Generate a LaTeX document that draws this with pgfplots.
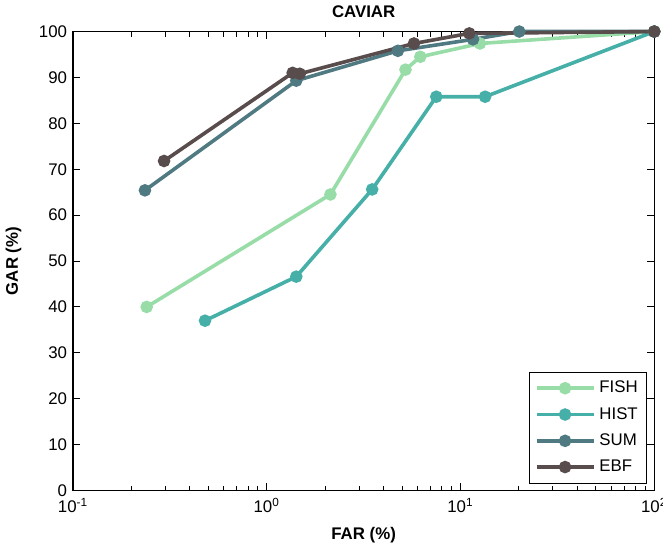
\documentclass[border={0pt 0pt -5pt 0pt}]{standalone}
\usepackage{pgfplots}
\pgfplotsset{compat=1.18}
\usepackage{fontspec}
\setmainfont{Liberation Sans}

\definecolor{cfish}{RGB}{152,221,168}
\definecolor{chist}{RGB}{70,176,168}
\definecolor{csum}{RGB}{80,122,130}
\definecolor{cebf}{RGB}{88,76,76}

\begin{document}
\fontsize{8.4}{10}\selectfont
\begin{tikzpicture}
\begin{semilogxaxis}[
  width=290pt, height=229pt,
  scale only axis,
  xmin=0.1, xmax=100,
  ymin=0, ymax=100,
  xtick={0.1,1,10,100},
  minor xtick={0.2,0.3,0.4,0.5,0.6,0.7,0.8,0.9,2,3,4,5,6,7,8,9,20,30,40,50,60,70,80,90},
  xticklabels={10\textsuperscript{-1},10\textsuperscript{0},10\textsuperscript{1},10\textsuperscript{2}},
  ytick={0,10,...,100},
  yticklabel style={/pgf/number format/assume math mode=true, font=\fontsize{8.4}{10}\selectfont},
  xticklabel style={font=\fontsize{8.4}{10}\selectfont, yshift=-1pt},
  tick align=inside,
  major tick length=3.5pt,
  minor tick length=2.5pt,
  tick style={black, line width=0.5pt},
  minor tick style={black, line width=0.5pt},
  axis line style={line width=0.6pt},
  title={\textbf{CAVIAR}},
  title style={yshift=-2pt},
  xlabel={\textbf{FAR (\%)}},
  xlabel style={yshift=-1.5pt},
  ylabel={\textbf{GAR (\%)}},
  ylabel style={yshift=3pt},
  clip=false,
  every axis plot/.append style={line width=1.8pt, mark=*, mark size=2.2pt},
  legend style={at={(0.988,0.015)}, anchor=south east, draw=black, line width=0.5pt,
    font=\fontsize{8.4}{10}\selectfont, row sep=2pt, inner sep=2.5pt},
  legend cell align=left,
  legend image code/.code={
    \draw[#1, mark repeat=2, mark phase=2] plot coordinates {(0cm,0cm) (0.5cm,0cm) (1cm,0cm)};
  },
]
\addplot[color=cfish, mark options={fill=cfish}] coordinates {
  (0.24,40) (2.13,64.5) (5.2,91.7) (6.2,94.5) (12.6,97.4) (100,100)
};
\addplot[color=chist, mark options={fill=chist}] coordinates {
  (0.48,37) (1.42,46.6) (3.5,65.6) (7.5,85.8) (13.4,85.8) (100,100)
};
\addplot[color=csum, mark options={fill=csum}] coordinates {
  (0.235,65.4) (1.42,89.3) (4.75,95.8) (11.6,98.3) (20.1,100) (100,100)
};
\addplot[color=cebf, mark options={fill=cebf}] coordinates {
  (0.295,71.8) (1.36,91) (1.48,90.8) (5.75,97.4) (11.1,99.6) (100,100)
};
\legend{FISH, HIST, SUM, EBF}
\end{semilogxaxis}
\end{tikzpicture}
\end{document}
